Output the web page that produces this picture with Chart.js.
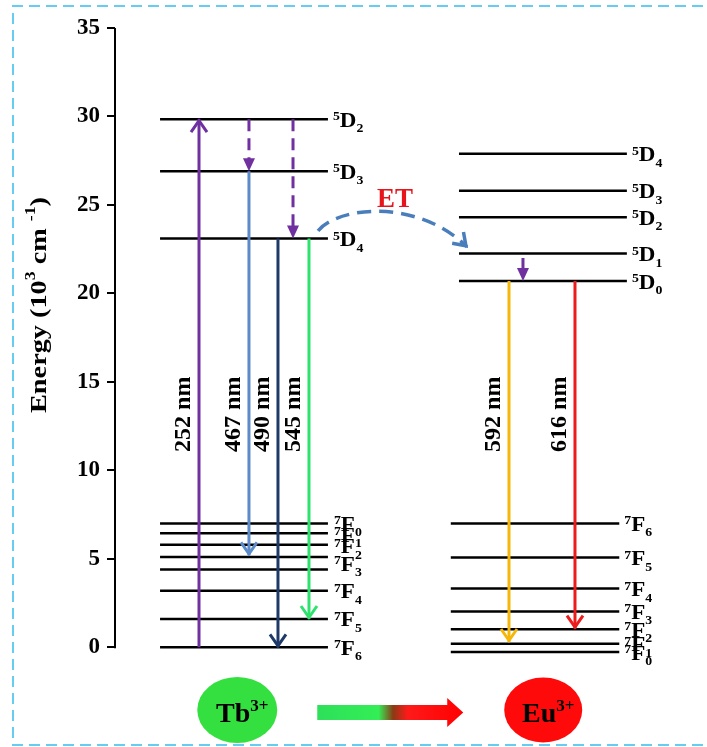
<!DOCTYPE html>
<html>
<head>
<meta charset="utf-8">
<script src="https://cdn.jsdelivr.net/npm/chart.js"></script>
<style>
  html, body { margin: 0; padding: 0; background: #fff; overflow: hidden; }
  #wrap { width: 707px; height: 747px; }
</style>
</head>
<body>
<div id="wrap"><canvas id="diagram"></canvas></div>
<script>
// Energy levels, 10^3 cm^-1
const tbUpper = [29.85, 26.9, 23.1];
const tbUpperNames = ["2", "3", "4"];                 // 5D_J
const tbLower = [7.0, 6.45, 5.8, 5.1, 4.4, 3.2, 1.6, 0];
const tbLowerLabelE = [7.0, 6.4, 5.75, 4.75, 3.2, 1.6, 0];
const tbLowerNames = ["0", "1", "2", "3", "4", "5", "6"]; // 7F_J

const euUpper = [27.9, 25.8, 24.3, 22.25, 20.7];
const euUpperNames = ["4", "3", "2", "1", "0"];
const euLower = [7.0, 5.07, 3.32, 2.03, 1.02, 0.2, -0.27];
const euLowerNames = ["6", "5", "4", "3", "2", "1", "0"];

// Transitions (start and end energy, wavelength)
const transFrom = [0, 26.9, 23.1, 23.1, 29.85, 29.85, 20.7, 20.7, 22.0];
const transTo = [29.85, 5.2, 0, 1.6, 26.9, 23.1, 0.3, 1.05, 20.7];
const transNm = ["252 nm", "467 nm", "490 nm", "545 nm", "", "", "592 nm", "616 nm", ""];

const yTicks = [0, 5, 10, 15, 20, 25, 30, 35];

// Layout (x in 0-100 units across the plot)
const TB_X = [7.7, 36.4];
const EU_X = [58.8, 87.5];
const EU_LOW_X = [57.4, 86.2];
const transX = [14.36, 22.9, 27.86, 33.16, 22.9, 30.43, 67.35, 78.63, 69.74];
const transColor = ["#7030a0", "#5b8bc9", "#1f3a68", "#2ee26e", "#7030a0", "#7030a0", "#f5b70a", "#ec1c1c", "#7030a0"];
const transHead = ["chev", "chev", "chev", "chev", "tri", "tri", "chev", "chev", "tri"];
const transDashed = [false, false, false, false, true, true, false, false, false];
const etPath = [[34.7, 23.54], [38.46, 25.0], [52.14, 25.29], [60.17, 22.63]];
const etText = [47.86, 25.29];
const ionX = [20.9, 73.2];

const FONT = "'Liberation Serif', 'Times New Roman', serif";

const datasets = [];
transFrom.forEach((f, i) => {
  datasets.push({
    data: [{ x: transX[i], y: f }, { x: transX[i], y: transHead[i] === "tri" ? transTo[i] + (f > transTo[i] ? 0.5 : -0.5) : transTo[i] }],
    borderColor: transColor[i],
    borderWidth: 3,
    borderDash: transDashed[i] ? [12, 7] : [],
    showLine: true,
    pointRadius: 0
  });
});
function addLevels(list, xs) {
  list.forEach(e => datasets.push({
    data: [{ x: xs[0], y: e }, { x: xs[1], y: e }],
    borderColor: "#000",
    borderWidth: 2.5,
    showLine: true,
    pointRadius: 0
  }));
}
addLevels(tbUpper, TB_X);
addLevels(tbLower, TB_X);
addLevels(euUpper, EU_X);
addLevels(euLower, EU_LOW_X);

function levelLabel(ctx, x, y, sup, main, sub) {
  ctx.save();
  ctx.translate(x, y);
  ctx.scale(1.15, 1);
  ctx.fillStyle = "#000";
  ctx.textAlign = "left";
  ctx.textBaseline = "alphabetic";
  ctx.font = "bold 12px " + FONT;
  ctx.fillText(sup, 0, 1);
  let w = ctx.measureText(sup).width;
  ctx.font = "bold 20px " + FONT;
  ctx.fillText(main, w, 7.5);
  w += ctx.measureText(main).width;
  ctx.font = "bold 12px " + FONT;
  ctx.fillText(sub, w, 13);
  ctx.restore();
}

function chevron(ctx, x, y, ang, color, lw) {
  ctx.save();
  ctx.translate(x, y);
  ctx.rotate(ang);
  ctx.strokeStyle = color;
  ctx.lineWidth = lw;
  ctx.lineJoin = "miter";
  ctx.beginPath();
  ctx.moveTo(-13, -8);
  ctx.lineTo(-1.5, 0);
  ctx.lineTo(-13, 8);
  ctx.stroke();
  ctx.restore();
}

function triangle(ctx, x, y, ang, color) {
  ctx.save();
  ctx.translate(x, y);
  ctx.rotate(ang);
  ctx.fillStyle = color;
  ctx.beginPath();
  ctx.moveTo(0, 0);
  ctx.lineTo(-13, -6);
  ctx.lineTo(-13, 6);
  ctx.closePath();
  ctx.fill();
  ctx.restore();
}

function supText(ctx, x, y, main, sup, mainSize, supSize, rise) {
  ctx.font = "bold " + mainSize + "px " + FONT;
  const w1 = ctx.measureText(main).width;
  ctx.font = "bold " + supSize + "px " + FONT;
  const w2 = ctx.measureText(sup).width;
  const x0 = x - (w1 + w2) / 2;
  ctx.textAlign = "left";
  ctx.font = "bold " + mainSize + "px " + FONT;
  ctx.fillText(main, x0, y);
  ctx.font = "bold " + supSize + "px " + FONT;
  ctx.fillText(sup, x0 + w1, y - rise);
}

const decor = {
  id: "decor",
  afterDatasetsDraw(chart) {
    const ctx = chart.ctx;
    const xs = chart.scales.x, ys = chart.scales.y;
    const px = v => xs.getPixelForValue(v), py = v => ys.getPixelForValue(v);

    // y axis line from 0 to 35
    ctx.save();
    ctx.strokeStyle = "#000";
    ctx.lineWidth = 2;
    ctx.beginPath();
    ctx.moveTo(chart.chartArea.left, py(0) + 1);
    ctx.lineTo(chart.chartArea.left, py(35));
    ctx.stroke();

    // arrowheads and wavelength labels
    transFrom.forEach((f, i) => {
      const x = px(transX[i]), y = py(transTo[i]);
      const ang = f < transTo[i] ? -Math.PI / 2 : Math.PI / 2;
      if (transHead[i] === "chev") chevron(ctx, x, y, ang, transColor[i], 3);
      else triangle(ctx, x, y, ang, transColor[i]);
      if (transNm[i]) {
        ctx.save();
        ctx.translate(x - 15, py(15.3));
        ctx.rotate(-Math.PI / 2);
        ctx.fillStyle = "#000";
        ctx.font = "bold 24px " + FONT;
        ctx.textAlign = "right";
        ctx.textBaseline = "middle";
        ctx.fillText(transNm[i], 0, 0);
        ctx.restore();
      }
    });

    // level labels
    tbUpper.forEach((e, i) => levelLabel(ctx, px(TB_X[1]) + 5, py(e), "5", "D", tbUpperNames[i]));
    tbLowerLabelE.forEach((e, i) => levelLabel(ctx, px(TB_X[1]) + 6, py(e), "7", "F", tbLowerNames[i]));
    euUpper.forEach((e, i) => levelLabel(ctx, px(EU_X[1]) + 5, py(e), "5", "D", euUpperNames[i]));
    euLower.forEach((e, i) => levelLabel(ctx, px(EU_LOW_X[1]) + 5, py(e), "7", "F", euLowerNames[i]));

    // ET energy transfer
    const p = etPath.map(q => [px(q[0]), py(q[1])]);
    ctx.strokeStyle = "#4a7ebb";
    ctx.lineWidth = 3.5;
    ctx.setLineDash([14, 8]);
    ctx.beginPath();
    ctx.moveTo(p[0][0], p[0][1]);
    ctx.bezierCurveTo(p[1][0], p[1][1], p[2][0], p[2][1], p[3][0], p[3][1]);
    ctx.stroke();
    ctx.setLineDash([]);
    chevron(ctx, p[3][0], p[3][1], Math.atan2(p[3][1] - p[2][1], p[3][0] - p[2][0]), "#4a7ebb", 3.5);
    ctx.fillStyle = "#e8141b";
    ctx.font = "bold 27px " + FONT;
    ctx.textAlign = "center";
    ctx.textBaseline = "middle";
    ctx.fillText("ET", px(etText[0]), py(etText[1]));

    // axis title
    ctx.save();
    ctx.translate(40, 305);
    ctx.rotate(-Math.PI / 2);
    ctx.fillStyle = "#000";
    ctx.textBaseline = "middle";
    const parts = [["Energy (10", 24, 0], ["3", 15, -9], [" cm ", 24, 0], ["-1", 15, -9], [")", 24, 0]];
    let total = 0;
    parts.forEach(pt => { ctx.font = "bold " + pt[1] + "px " + FONT; total += ctx.measureText(pt[0]).width; });
    ctx.scale(216 / total, 1);
    let cx = -total / 2;
    ctx.textAlign = "left";
    parts.forEach(pt => {
      ctx.font = "bold " + pt[1] + "px " + FONT;
      ctx.fillText(pt[0], cx, pt[2]);
      cx += ctx.measureText(pt[0]).width;
    });
    ctx.restore();

    // ions and transfer arrow
    const by = chart.chartArea.bottom + 45;
    const tbx = px(ionX[0]), eux = px(ionX[1]);
    ctx.fillStyle = "#33e03f";
    ctx.beginPath();
    ctx.ellipse(tbx, by, 40, 33, 0, 0, Math.PI * 2);
    ctx.fill();
    ctx.fillStyle = "#ff0a0a";
    ctx.beginPath();
    ctx.ellipse(eux, by, 39, 32.5, 0, 0, Math.PI * 2);
    ctx.fill();
    ctx.fillStyle = "#000";
    ctx.textBaseline = "alphabetic";
    supText(ctx, tbx + 5, by + 12, "Tb", "3+", 28, 17, 11);
    supText(ctx, eux + 5, by + 12, "Eu", "3+", 28, 17, 11);

    const a0 = tbx + 80, a1 = eux - 80, hb = a1 - 16;
    const g = ctx.createLinearGradient(a0, 0, a1, 0);
    g.addColorStop(0, "#2ee05a");
    g.addColorStop(0.42, "#33ee55");
    g.addColorStop(0.52, "#8a3a14");
    g.addColorStop(0.62, "#ff1a1a");
    g.addColorStop(1, "#ff0000");
    ctx.fillStyle = g;
    ctx.beginPath();
    ctx.moveTo(a0, by - 5);
    ctx.lineTo(hb, by - 5);
    ctx.lineTo(hb, by - 12);
    ctx.lineTo(a1, by + 2.5);
    ctx.lineTo(hb, by + 17);
    ctx.lineTo(hb, by + 10);
    ctx.lineTo(a0, by + 10);
    ctx.closePath();
    ctx.fill();

    // dashed frame
    ctx.strokeStyle = "#66ccf2";
    ctx.lineWidth = 2;
    ctx.setLineDash([11, 6]);
    ctx.beginPath();
    ctx.moveTo(720, 6);
    ctx.lineTo(13, 6);
    ctx.lineTo(13, 745);
    ctx.lineTo(720, 745);
    ctx.stroke();
    ctx.restore();
  }
};

new Chart(document.getElementById("diagram"), {
  type: "scatter",
  data: { datasets: datasets },
  options: {
    responsive: true,
    maintainAspectRatio: false,
    animation: false,
    layout: { padding: { top: 28, bottom: 82, left: 0, right: 7 } },
    plugins: { legend: { display: false }, tooltip: { enabled: false } },
    scales: {
      x: { type: "linear", min: 0, max: 100, display: false },
      y: {
        min: -1,
        max: 35,
        afterBuildTicks: s => { s.ticks = yTicks.map(v => ({ value: v })); },
        afterFit: s => { s.width = 115; },
        border: { display: false },
        grid: { drawOnChartArea: false, drawTicks: true, tickLength: 8, color: "#000", lineWidth: 2 },
        ticks: { color: "#000", padding: 7, font: { family: FONT, size: 23, weight: "bold" } }
      }
    }
  },
  plugins: [decor]
});
</script>
</body>
</html>
